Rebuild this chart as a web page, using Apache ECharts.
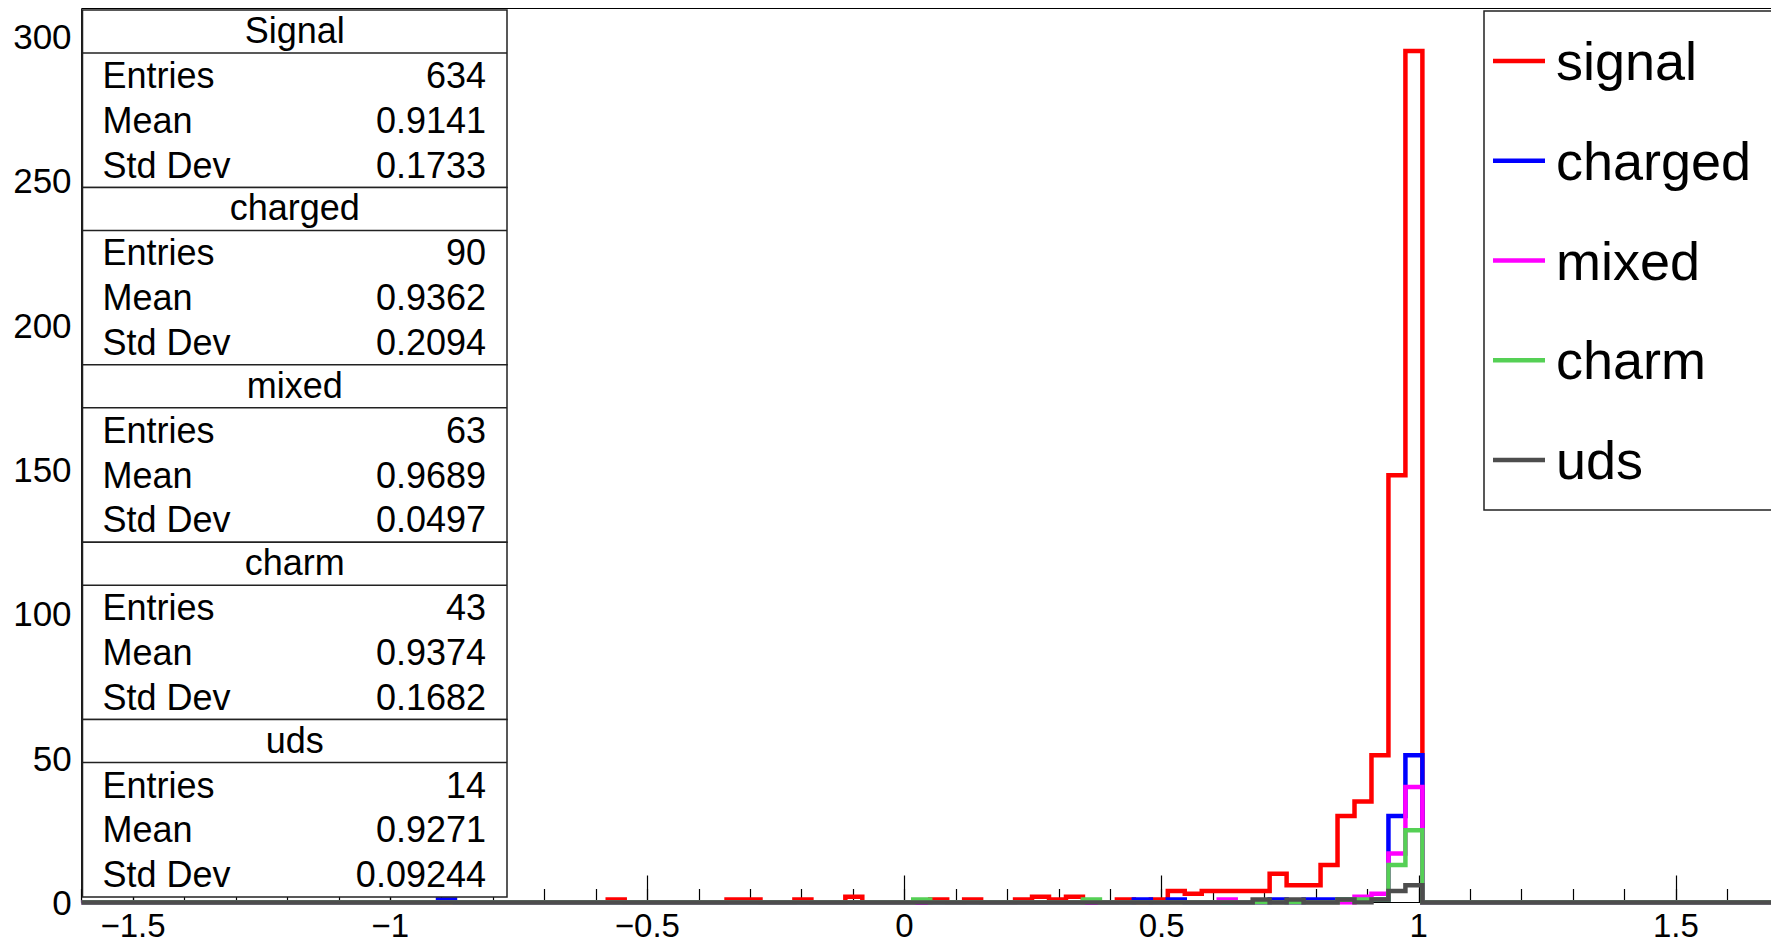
<!DOCTYPE html>
<html>
<head>
<meta charset="utf-8">
<script src="https://cdn.jsdelivr.net/npm/echarts@6/dist/echarts.min.js"></script>
<style>
html,body{margin:0;padding:0;background:#fff;}
#chart{width:1771px;height:942px;}
</style>
</head>
<body>
<div id="chart"></div>
<script>
// ---------------- data ----------------
const histMin = -1.6, histMax = 1.7, nBins = 100;   // histogram binning
const yMax = 309.75;
const xTickLabels = [-1.5, -1, -0.5, 0, 0.5, 1, 1.5];
const yTickLabels = [0, 50, 100, 150, 200, 250, 300];

const seriesNames  = ['signal', 'charged', 'mixed', 'charm', 'uds'];
const seriesColors = ['#ff0000', '#0000ff', '#ff00ff', '#55d055', '#4d4d4d'];

// bin contents, 100 bins each (rows of 10)
const signal = [
  0,0,0,0,0,0,0,0,0,0,
  0,0,0,0,0,0,0,0,0,0,
  0,0,0,0,0,0,0,0,0,0,
  0,1,0,0,0,0,0,0,1,1,
  0,0,1,0,0,2,0,0,0,0,
  1,0,1,0,0,1,2,1,2,0,
  0,1,0,1,4,3,4,4,4,4,
  10,6,6,13,30,35,51,148,295,0,
  0,0,0,0,0,0,0,0,0,0,
  0,0,0,0,0,0,0,0,0,0
];
const charged = [
  0,0,0,0,0,0,0,0,0,0,
  0,0,0,0,0,0,0,0,0,0,
  0,1,0,0,0,0,0,0,0,0,
  0,0,0,0,0,0,0,0,0,0,
  0,0,0,0,0,0,0,0,0,0,
  0,0,0,0,0,0,0,0,0,0,
  0,0,1,0,1,0,0,0,0,0,
  1,0,1,1,1,1,1,30,51,0,
  0,0,0,0,0,0,0,0,0,0,
  0,0,0,0,0,0,0,0,0,0
];
const mixed = [
  0,0,0,0,0,0,0,0,0,0,
  0,0,0,0,0,0,0,0,0,0,
  0,0,0,0,0,0,0,0,0,0,
  0,0,0,0,0,0,0,0,0,0,
  0,0,0,0,0,0,0,0,0,0,
  0,0,0,0,0,0,0,0,0,0,
  0,0,0,0,0,0,0,1,0,0,
  0,0,0,0,0,2,3,17,40,0,
  0,0,0,0,0,0,0,0,0,0,
  0,0,0,0,0,0,0,0,0,0
];
const charm = [
  0,0,0,0,0,0,0,0,0,0,
  0,0,0,0,0,0,0,0,0,0,
  0,0,0,0,0,0,0,0,0,0,
  0,0,0,0,0,0,0,0,0,0,
  0,0,0,0,0,0,0,0,0,1,
  0,0,0,0,0,0,0,0,0,1,
  0,0,0,0,0,0,0,0,0,0,
  0,0,0,0,1,1,1,13,25,0,
  0,0,0,0,0,0,0,0,0,0,
  0,0,0,0,0,0,0,0,0,0
];
const uds = [
  0,0,0,0,0,0,0,0,0,0,
  0,0,0,0,0,0,0,0,0,0,
  0,0,0,0,0,0,0,0,0,0,
  0,0,0,0,0,0,0,0,0,0,
  0,0,0,0,0,0,0,0,0,0,
  0,0,0,0,0,0,0,0,0,0,
  0,0,0,0,0,0,0,0,0,1,
  0,1,0,0,1,0,1,4,6,0,
  0,0,0,0,0,0,0,0,0,0,
  0,0,0,0,0,0,0,0,0,0
];

// stats boxes
const statsTitles  = ['Signal', 'charged', 'mixed', 'charm', 'uds'];
const statsEntries = ['634', '90', '63', '43', '14'];
const statsMeans   = ['0.9141', '0.9362', '0.9689', '0.9374', '0.9271'];
const statsStdDevs = ['0.1733', '0.2094', '0.0497', '0.1682', '0.09244'];

// ---------------- build ----------------
const allCounts = [signal, charged, mixed, charm, uds];
const binW = (histMax - histMin) / nBins;
function stepPoints(counts) {
  const pts = [[histMin, 0]];
  for (let k = 0; k < nBins; k++) {
    const lo = histMin + k * binW, hi = histMin + (k + 1) * binW;
    pts.push([lo, counts[k]], [hi, counts[k]]);
  }
  pts.push([histMax, 0]);
  return pts;
}
const minorTicks = [];
for (let i = -16; i <= 17; i++) minorTicks.push(i / 10);

const FONT = '"Liberation Sans", Arial, Helvetica, sans-serif';
const LW = 4.5;

// layout (pixels)
const gridLeft = 81.6, gridTop = 8.5, gridBottom = 39.5, gridWidth = 1697.2;
const stL = 82.5, stR = 507, stT = 10, stB = 897;
const secH = (stB - stT) / 5, headH = 43;
const lgL = 1484, lgT = 11, lgB = 510;

const graphics = [];
for (let i = 0; i < 5; i++) {
  const S = stT + i * secH;
  graphics.push({type:'rect', z:100, shape:{x:stL, y:S, width:stR-stL, height:secH},
    style:{fill:'#fff', stroke:'#222', lineWidth:1.5}});
  graphics.push({type:'line', z:101, shape:{x1:stL, y1:S+headH, x2:stR, y2:S+headH},
    style:{stroke:'#222', lineWidth:1.5}});
  graphics.push({type:'text', z:102, x:(stL+stR)/2, y:S+headH/2 - 1,
    style:{text:statsTitles[i], fontSize:36, fontFamily:FONT, fill:'#000',
      align:'center', textAlign:'center', verticalAlign:'middle', textVerticalAlign:'middle'}});
  const labels = ['Entries', 'Mean', 'Std Dev'];
  const vals = [statsEntries[i], statsMeans[i], statsStdDevs[i]];
  const rowH = (secH - headH) / 3;
  for (let r = 0; r < 3; r++) {
    const cy = S + headH + rowH * (r + 0.5);
    graphics.push({type:'text', z:102, x:stL + 20, y:cy,
      style:{text:labels[r], fontSize:36, fontFamily:FONT, fill:'#000',
        align:'left', textAlign:'left', verticalAlign:'middle', textVerticalAlign:'middle'}});
    graphics.push({type:'text', z:102, x:stR - 21, y:cy,
      style:{text:vals[r], fontSize:36, fontFamily:FONT, fill:'#000',
        align:'right', textAlign:'right', verticalAlign:'middle', textVerticalAlign:'middle'}});
  }
}
// legend
graphics.push({type:'rect', z:100, shape:{x:lgL, y:lgT, width:400, height:lgB-lgT},
  style:{fill:'#fff', stroke:'#222', lineWidth:1.5}});
const entH = (lgB - lgT) / seriesNames.length;
seriesNames.forEach((n, i) => {
  const cy = lgT + entH * (i + 0.5);
  graphics.push({type:'line', z:101, shape:{x1:1493, y1:cy, x2:1545, y2:cy},
    style:{stroke:seriesColors[i], lineWidth:LW}});
  graphics.push({type:'text', z:102, x:1556, y:cy,
    style:{text:n, fontSize:54, fontFamily:FONT, fill:'#000',
      align:'left', textAlign:'left', verticalAlign:'middle', textVerticalAlign:'middle'}});
});

const chart = echarts.init(document.getElementById('chart'), null, {renderer:'svg'});
chart.setOption({
  animation: false,
  backgroundColor: '#fff',
  grid: {left:gridLeft, width:gridWidth, top:gridTop, bottom:gridBottom,
    outerBoundsMode:'none', containLabel:false,
    show:true, borderColor:'#000', borderWidth:1, backgroundColor:'transparent'},
  xAxis: [
    {type:'value', min:histMin, max:histMax, position:'bottom',
      axisLine:{show:true, onZero:false, lineStyle:{color:'#000', width:1}},
      axisTick:{show:true, inside:true, length:27, customValues:xTickLabels, lineStyle:{color:'#000', width:1.2}},
      axisLabel:{show:true, customValues:xTickLabels, margin:8.5, fontSize:33, lineHeight:28,
        fontFamily:FONT, color:'#000',
        formatter: v => String(v).replace('-', '\u2212')},
      splitLine:{show:false}},
    {type:'value', min:histMin, max:histMax, position:'bottom', offset:0,
      axisLine:{show:false},
      axisTick:{show:true, inside:true, length:13.5, customValues:minorTicks, lineStyle:{color:'#000', width:1.2}},
      axisLabel:{show:false}, splitLine:{show:false}}
  ],
  yAxis: {type:'value', min:0, max:yMax,
    axisLine:{show:false}, axisTick:{show:false}, splitLine:{show:false},
    axisLabel:{show:true, customValues:yTickLabels, margin:10, fontSize:35, fontFamily:FONT, color:'#000'}},
  series: allCounts.map((c, i) => ({
    name: seriesNames[i], type:'line', xAxisIndex:0, yAxisIndex:0,
    data: stepPoints(c), symbol:'none', showSymbol:false, smooth:false,
    lineStyle:{color:seriesColors[i], width:LW, cap:'butt', join:'miter'},
    emphasis:{disabled:true}, silent:true, z:2
  })),
  graphic: {elements: graphics}
});
</script>
</body>
</html>
